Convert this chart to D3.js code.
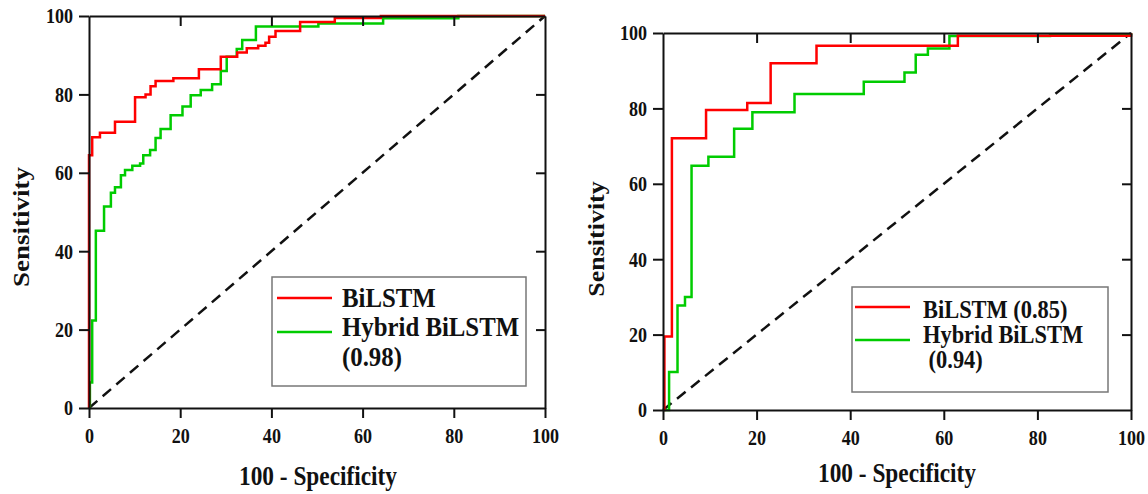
<!DOCTYPE html>
<html>
<head>
<meta charset="utf-8">
<script src="https://cdn.jsdelivr.net/npm/d3@7"></script>
<style>
  body { margin: 0; background: #fff; }
  svg { display: block; }
  text { font-family: "Liberation Serif", "Times New Roman", serif; font-weight: bold; fill: #111; }
</style>
</head>
<body>
<svg width="1148" height="494"></svg>
<script>
const width = 1148;
const height = 494;

// axis ticks (same on both panels)
const tickValues = [0, 20, 40, 60, 80, 100];
const innerTicks = [20, 40, 60, 80];

// ROC step points [100 - specificity, sensitivity]
const leftBiLSTM = [[0,0],[0,64.5],[0.7,69.1],[2.4,70.2],[5.7,73.0],[10.1,79.3],[12.4,80.0],[13.5,82.1],
  [14.6,83.4],[18.5,84.1],[24.1,86.4],[28.9,89.6],[32.5,90.7],[34.6,91.8],[37.1,92.4],[38.7,93.2],
  [39.5,94.7],[40.9,96.2],[46.3,98.5],[53.9,99.5],[64,100],[100,100]];
const leftHybrid = [[0,0],[0.2,6.5],[0.7,22.3],[1.5,45.2],[3.3,51.4],[4.8,54.9],[5.7,56.3],[7.0,59.4],
  [7.9,60.7],[9.5,61.8],[11.2,62.4],[11.9,64.5],[13.4,65.8],[14.6,68.9],[15.7,71.2],[17.9,74.7],
  [20.5,76.9],[22.3,79.8],[24.5,81.1],[27.0,82.6],[28.9,86.0],[30.2,89.6],[32.4,91.6],[33.6,93.9],
  [36.6,97.3],[50.3,98.1],[64.5,99.4],[81,100],[100,100]];
const rightBiLSTM = [[0,0],[0.3,19.5],[1.9,72.1],[9.2,79.6],[18.0,81.4],[23.0,92.0],[32.8,96.6],
  [63.0,99.3],[100,100]];
const rightHybrid = [[0,0],[1.3,10.1],[3.1,27.7],[4.7,30.0],[6.1,64.8],[9.7,67.2],[15.2,74.6],
  [19.1,79.0],[28.1,83.8],[42.9,87.1],[51.6,89.5],[54.0,94.2],[56.6,95.9],[61.2,99.2],[82.7,99.7],[100,100]];
const diagonal = [[0,0],[100,100]];

const leftLegend = ["BiLSTM", "Hybrid BiLSTM", "(0.98)"];
const rightLegend = ["BiLSTM (0.85)", "Hybrid BiLSTM", " (0.94)"];

const red = "#ff0000";
const green = "#00cc00";
const sx = 0.88; // the source figure is squeezed horizontally

const svg = d3.select("svg");

function drawPanel(p) {
  const x = d3.scaleLinear().domain([0, 100]).range([p.x0, p.x1]);
  const y = d3.scaleLinear().domain([0, 100]).range([p.y0, p.y1]);
  const g = svg.append("g");

  // reference diagonal
  g.append("path")
    .datum(diagonal)
    .attr("d", d3.line().x(d => x(d[0])).y(d => y(d[1])))
    .style("fill", "none")
    .style("stroke", "#111")
    .style("stroke-width", 2.5)
    .style("stroke-dasharray", "11,7");

  const step = d3.line().x(d => x(d[0])).y(d => y(d[1])).curve(d3.curveStepAfter);
  [[p.hybrid, green], [p.bilstm, red]].forEach(([data, col]) => {
    g.append("path")
      .datum(data)
      .attr("d", step)
      .style("fill", "none")
      .style("stroke", col)
      .style("stroke-width", 2.5);
  });

  // frame + ticks
  const bottom = g.append("g").attr("transform", `translate(0,${p.y0})`)
    .call(d3.axisBottom(x).tickValues(tickValues).tickSizeInner(10).tickSizeOuter(0));
  bottom.selectAll("text")
    .attr("y", null).attr("dy", null)
    .attr("transform", `translate(0,35) scale(0.84,1)`)
    .style("font-size", "21.5px");

  const left = g.append("g").attr("transform", `translate(${p.x0},0)`)
    .call(d3.axisLeft(y).tickValues(tickValues).tickSizeInner(10).tickSizeOuter(0));
  left.selectAll("text")
    .attr("x", null)
    .attr("transform", `translate(-16,0) scale(0.84,1)`)
    .style("font-size", "21.5px");

  g.append("g").attr("transform", `translate(0,${p.y1})`)
    .call(d3.axisTop(x).tickValues(innerTicks).tickSizeInner(-10).tickSizeOuter(0).tickFormat(""));
  g.append("g").attr("transform", `translate(${p.x1},0)`)
    .call(d3.axisRight(y).tickValues(innerTicks).tickSizeInner(-9).tickSizeOuter(0).tickFormat(""));

  g.selectAll(".domain, .tick line").style("stroke", "#111").style("stroke-width", 2);
  g.selectAll(".tick text").style("fill", "#111").style("font-family", null);

  // axis titles
  g.append("text")
    .attr("transform", `translate(${p.xTitle[0]},${p.xTitle[1]}) scale(${sx},1)`)
    .attr("text-anchor", "middle")
    .style("font-size", p.titleSize + "px")
    .text("100 - Specificity");
  g.append("text")
    .attr("transform", `translate(${p.yTitle[0]},${p.yTitle[1]}) scale(${sx},1) rotate(-90)`)
    .attr("text-anchor", "middle")
    .attr("dy", "0.35em")
    .style("font-size", p.yTitleSize + "px")
    .text("Sensitivity");

  // legend
  const L = p.legend;
  g.append("rect")
    .attr("x", L.x).attr("y", L.y).attr("width", L.w).attr("height", L.h)
    .style("fill", "#fff").style("stroke", "#777").style("stroke-width", 1.5);
  [[red, L.lineY[0]], [green, L.lineY[1]]].forEach(([col, ly]) => {
    g.append("line")
      .attr("x1", L.lx0).attr("x2", L.lx1).attr("y1", ly).attr("y2", ly)
      .style("stroke", col).style("stroke-width", 2.5);
  });
  L.labels.forEach((t, i) => {
    g.append("text")
      .attr("transform", `translate(${L.tx},${L.baselines[i]}) scale(${sx},1)`)
      .style("font-size", L.size + "px")
      .style("white-space", "pre")
      .text(t);
  });
}

drawPanel({
  x0: 89, x1: 545, y0: 408, y1: 16,
  bilstm: leftBiLSTM, hybrid: leftHybrid,
  xTitle: [318, 485], titleSize: 26.5,
  yTitle: [21, 227], yTitleSize: 27,
  legend: { x: 272, y: 277, w: 254, h: 109, lx0: 277, lx1: 332, lineY: [298, 332],
            tx: 342, baselines: [307, 336, 366], size: 28.2, labels: leftLegend }
});

drawPanel({
  x0: 663, x1: 1131, y0: 410, y1: 33,
  bilstm: rightBiLSTM, hybrid: rightHybrid,
  xTitle: [897, 482], titleSize: 26.5,
  yTitle: [596, 239], yTitleSize: 26,
  legend: { x: 852, y: 287, w: 256, h: 105, lx0: 855, lx1: 910, lineY: [307, 340],
            tx: 923, baselines: [318, 343, 368], size: 25.5, labels: rightLegend }
});
</script>
</body>
</html>
